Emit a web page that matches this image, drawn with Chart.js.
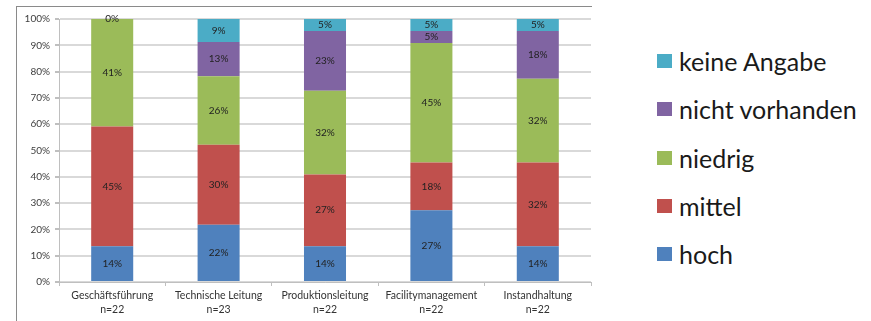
<!DOCTYPE html>
<html lang="de">
<head>
<meta charset="utf-8">
<title>Bewertung nach Funktionsbereich</title>
<script src="https://cdn.jsdelivr.net/npm/chart.js@4/dist/chart.umd.min.js"></script>
<style>
  html, body { margin: 0; padding: 0; background: #fff; }
  #wrap { position: relative; width: 871px; height: 321px; overflow: hidden; font-family: Lato, "Open Sans", sans-serif; }
  #frame { position: absolute; left: 16px; top: 6px; width: 575px; height: 330px; border-top: 1px solid #8a8a8a; border-left: 1px solid #8a8a8a; }
  #chart { position: absolute; left: 0; top: 0; }
  #legend { position: absolute; left: 657px; top: 46px; margin: 0; padding: 0; list-style: none; }
  #legend li { display: flex; align-items: center; height: 30px; margin-bottom: 18.25px; font-size: 25px; color: #1a1a1a; }
  #legend .box { width: 15px; height: 14px; margin-right: 7px; }
</style>
</head>
<body>
<div id="wrap">
  <div id="frame"></div>
  <canvas id="chart" width="600" height="321"></canvas>
  <ul id="legend"></ul>
</div>
<script>
// Bereiche und Stichprobengröße
const bereiche = ["Geschäftsführung", "Technische Leitung", "Produktionsleitung", "Facilitymanagement", "Instandhaltung"];
const stichprobe = [22, 23, 22, 22, 22];

// Anteile in Prozent je Ausprägung
const hoch = [13.64, 21.74, 13.64, 27.27, 13.64];
const mittel = [45.45, 30.43, 27.27, 18.18, 31.82];
const niedrig = [40.91, 26.09, 31.82, 45.45, 31.82];
const nichtVorhanden = [0, 13.04, 22.72, 4.55, 18.18];
const keineAngabe = [0, 8.70, 4.55, 4.55, 4.54];

const yTicks = [0, 10, 20, 30, 40, 50, 60, 70, 80, 90, 100];

const serien = [
  { label: "hoch", data: hoch, color: "#4f81bd" },
  { label: "mittel", data: mittel, color: "#c0504d" },
  { label: "niedrig", data: niedrig, color: "#9bbb59" },
  { label: "nicht vorhanden", data: nichtVorhanden, color: "#8064a2" },
  { label: "keine Angabe", data: keineAngabe, color: "#4bacc6" }
];

const FONT = "Lato, 'Open Sans', sans-serif";

// Prozentwerte mittig in jedes Segment schreiben
const segmentLabels = {
  id: "segmentLabels",
  afterDatasetsDraw(chart) {
    const ctx = chart.ctx;
    const seen = new Set();
    ctx.save();
    ctx.font = "10px " + FONT;
    ctx.fillStyle = "#222";
    ctx.textAlign = "center";
    ctx.textBaseline = "middle";
    chart.data.datasets.forEach((ds, i) => {
      const meta = chart.getDatasetMeta(i);
      meta.data.forEach((bar, j) => {
        const y = (bar.y + bar.base) / 2;
        const key = Math.round(bar.x) + ":" + Math.round(y);
        if (seen.has(key)) return;
        seen.add(key);
        ctx.fillText(Math.round(ds.data[j]) + "%", bar.x, y);
      });
    });
    ctx.restore();
  }
};

const chart = new Chart(document.getElementById("chart"), {
  type: "bar",
  data: {
    labels: bereiche.map((b, i) => [b, "n=" + stichprobe[i]]),
    datasets: serien.map((s) => ({
      label: s.label,
      data: s.data,
      backgroundColor: s.color,
      borderWidth: 0,
      categoryPercentage: 1,
      barPercentage: 0.395
    }))
  },
  options: {
    responsive: false,
    animation: false,
    devicePixelRatio: 1,
    layout: { padding: { top: 19, right: 9, bottom: 0, left: 0 } },
    plugins: {
      legend: { display: false },
      tooltip: { enabled: false }
    },
    scales: {
      x: {
        stacked: true,
        grid: { display: true, drawOnChartArea: false, tickLength: 4, color: "#bfbfbf" },
        border: { color: "#bfbfbf" },
        ticks: { font: { family: FONT, size: 10.5, lineHeight: 1.3 }, color: "#333", padding: 3, maxRotation: 0 },
        afterFit(scale) { scale.height = 39; }
      },
      y: {
        stacked: true,
        min: 0,
        max: 100,
        afterBuildTicks(scale) { scale.ticks = yTicks.map((v) => ({ value: v })); },
        grid: { color: "#d9d9d9", lineWidth: 2, tickLength: 4, tickColor: "#bfbfbf" },
        border: { color: "#bfbfbf" },
        ticks: {
          font: { family: FONT, size: 10 },
          color: "#404040",
          padding: 5,
          callback: (v) => v + "%"
        },
        afterFit(scale) { scale.width = 59; }
      }
    }
  },
  plugins: [segmentLabels]
});

// Legende rechts, oberste Ausprägung zuerst
const legend = document.getElementById("legend");
[...serien].reverse().forEach((s) => {
  const li = document.createElement("li");
  li.innerHTML = `<span class="box" style="background:${s.color}"></span><span>${s.label}</span>`;
  legend.appendChild(li);
});
</script>
</body>
</html>
